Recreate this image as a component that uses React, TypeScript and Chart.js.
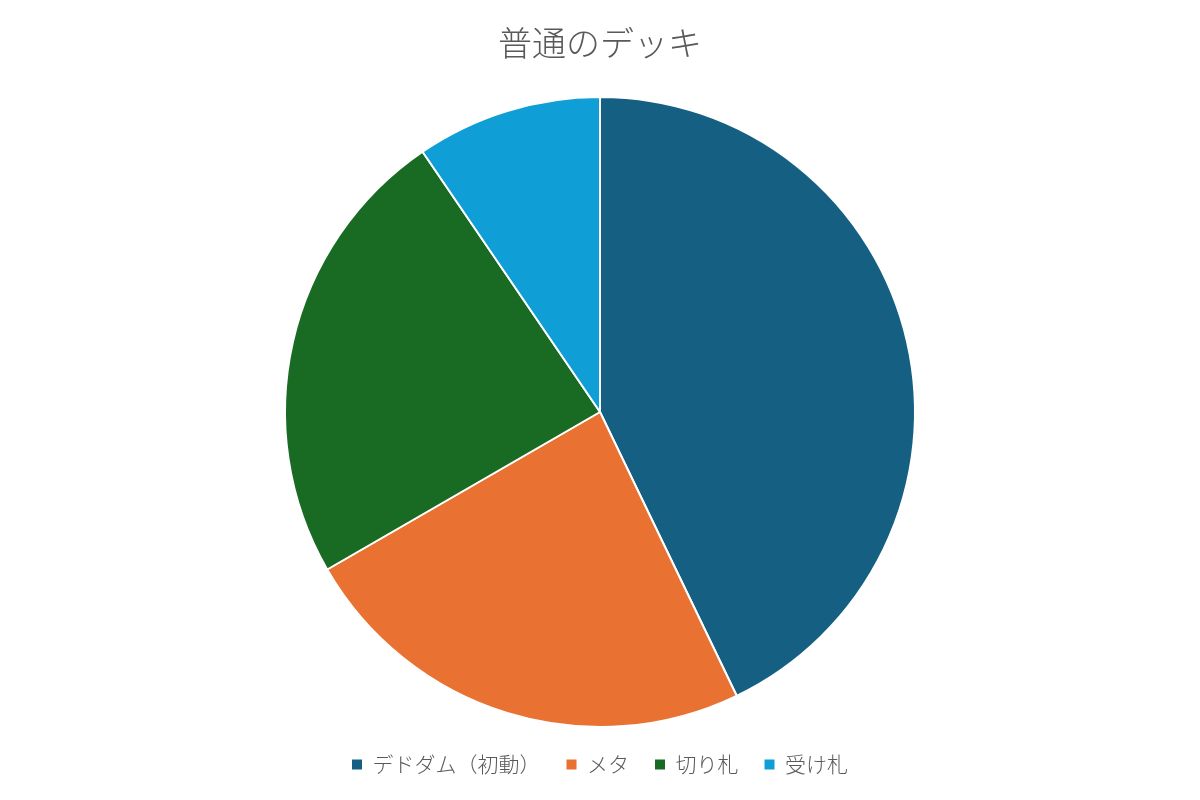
import React, { useEffect, useRef } from "react";
import { Chart, registerables } from "chart.js";

Chart.register(...registerables);

const titleText = "普通のデッキ";
const categories = ["デドダム（初動）", "メタ", "切り札", "受け札"];
const values = [18, 10, 10, 4];
const colors = ["#156082", "#E97132", "#196B24", "#0F9ED5"];

const FONT = "'Noto Sans CJK JP', 'Noto Sans', sans-serif";

export default function App() {
  const ref = useRef<HTMLCanvasElement | null>(null);
  useEffect(() => {
    if (!ref.current) return;
    const chart = new Chart(ref.current, {
      type: "pie",
      data: {
        labels: categories,
        datasets: [
          {
            data: values,
            backgroundColor: colors,
            borderColor: "#ffffff",
            borderWidth: 2,
          },
        ],
      },
      options: {
        animation: false,
        responsive: false,
        maintainAspectRatio: false,
        layout: { padding: { top: 0, bottom: 15, left: 0, right: 0 } },
        plugins: {
          title: {
            display: true,
            text: titleText,
            color: "#595959",
            font: { family: FONT, size: 34, weight: 300, lineHeight: 1.2 },
            padding: { top: 22.6, bottom: 32.6 },
          },
          legend: {
            position: "bottom",
            labels: {
              color: "#595959",
              font: { family: FONT, size: 21, weight: 300 },
              boxWidth: 10,
              boxHeight: 10,
              padding: 26,
              generateLabels: (c: any) => {
                const base = Chart.overrides.pie.plugins.legend.labels.generateLabels(c);
                return base.map((l: any) => ({ ...l, lineWidth: 0, strokeStyle: "transparent" }));
              },
            },
          },
          tooltip: { enabled: false },
        },
      },
    });
    return () => chart.destroy();
  }, []);
  return (
    <div style={{ position: "fixed", left: 0, top: 0, width: 1200, height: 800, background: "#ffffff" }}>
      <canvas ref={ref} width={1200} height={800} style={{ width: 1200, height: 800, display: "block" }} />
    </div>
  );
}
